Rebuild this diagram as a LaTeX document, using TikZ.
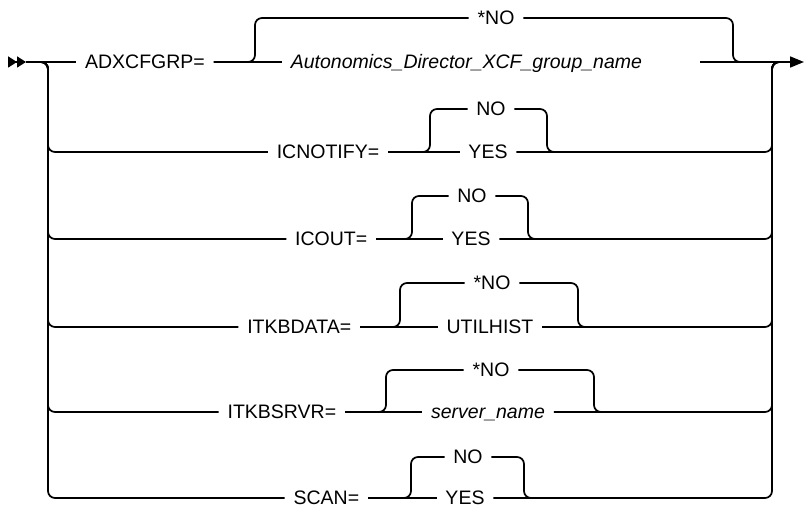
\documentclass[tikz,border=0pt]{standalone}
\usepackage{fontspec}
\setmainfont{Liberation Sans}
\usetikzlibrary{arrows.meta}

\begin{document}
\begin{tikzpicture}[x=1pt,y=-1pt,line width=1.7pt,
    rail/.style={rounded corners=7pt},
    kw/.style={inner xsep=8pt,inner ysep=0pt,text height=13.3pt,text depth=0pt,
      font=\fontsize{19.5}{23}\selectfont},
    var/.style={kw,font=\fontsize{19.5}{23}\selectfont\itshape}]
  \useasboundingbox (0,0) rectangle (805,505);
  % entrada, salida y barras laterales
  \coordinate (ini) at (8,62);
  \coordinate (ini2) at (26,62);
  \coordinate (fin) at (804,62);
  \coordinate (lj) at (48,62);
  \coordinate (rj) at (772,62);
  \draw[-{Triangle[length=9pt,width=11pt]Triangle[length=9pt,width=11pt]}] (ini) -- (ini2);
  % ADXCFGRP
  \node[kw] (adx) at (145,62) {ADXCFGRP=};
  \node[kw] (adxno) at (496,18) {*NO};
  \node[var,anchor=west] (adxname) at (282,62) {Autonomics\_Director\_XCF\_group\_name};
  \coordinate (adxup) at (255,18);
  \coordinate (adxdn) at (733,62);
  \coordinate (adxout) at (700,62);
  \draw (ini2) -- (adx.west);
  \draw (adx.east) -- (adxname.west);
  \draw[rail] (adx.east) -| (adxup) -- (adxno.west);
  \draw[rail] (adxno.east) -| (adxdn) -- ++(10,0);
  \draw[-{Triangle[length=14pt,width=11pt]}] (adxout) -- (fin);
  % ICNOTIFY
  \node[kw,anchor=east] (icn) at (388,152) {ICNOTIFY=};
  \node[kw] (icnno) at (491,109) {NO};
  \node[kw] (icnyes) at (488,152) {YES};
  \coordinate (icnup) at (430,109);
  \coordinate (icndn) at (547,152);
  \draw[rail] (ini2) -| (lj |- icn.west) -- (icn.west);
  \draw (icn.east) -- (icnyes.west);
  \draw[rail] (icn.east) -| (icnup) -- (icnno.west);
  \draw[rail] (icnno.east) -| (icndn) -- ++(10,0);
  \draw[rail] (icnyes.east) -| (rj) -- ++(10,0);
  % ICOUT
  \node[kw,anchor=east] (ico) at (376,239) {ICOUT=};
  \node[kw] (icono) at (472,196) {NO};
  \node[kw] (icoyes) at (471,239) {YES};
  \coordinate (icoup) at (412,196);
  \coordinate (icodn) at (528,239);
  \draw[rail] (ini2) -| (lj |- ico.west) -- (ico.west);
  \draw (ico.east) -- (icoyes.west);
  \draw[rail] (ico.east) -| (icoup) -- (icono.west);
  \draw[rail] (icono.east) -| (icodn) -- ++(10,0);
  \draw[rail] (icoyes.east) -| (rj) -- ++(10,0);
  % ITKBDATA
  \node[kw,anchor=east] (itd) at (360,327) {ITKBDATA=};
  \node[kw] (itdno) at (492,283) {*NO};
  \node[kw] (itdhist) at (490,327) {UTILHIST};
  \coordinate (itdup) at (400,283);
  \coordinate (itddn) at (578,327);
  \draw[rail] (ini2) -| (lj |- itd.west) -- (itd.west);
  \draw (itd.east) -- (itdhist.west);
  \draw[rail] (itd.east) -| (itdup) -- (itdno.west);
  \draw[rail] (itdno.east) -| (itddn) -- ++(10,0);
  \draw[rail] (itdhist.east) -| (rj) -- ++(10,0);
  % ITKBSRVR
  \node[kw,anchor=east] (its) at (345,412) {ITKBSRVR=};
  \node[kw] (itsno) at (491,370) {*NO};
  \node[var] (itsname) at (488,412) {server\_name};
  \coordinate (itsup) at (386,370);
  \coordinate (itsdn) at (594,412);
  \draw[rail] (ini2) -| (lj |- its.west) -- (its.west);
  \draw (its.east) -- (itsname.west);
  \draw[rail] (its.east) -| (itsup) -- (itsno.west);
  \draw[rail] (itsno.east) -| (itsdn) -- ++(10,0);
  \draw[rail] (itsname.east) -| (rj) -- ++(10,0);
  % SCAN
  \node[kw,anchor=east] (scn) at (368,498) {SCAN=};
  \node[kw] (scnno) at (468,457) {NO};
  \node[kw] (scnyes) at (465,498) {YES};
  \coordinate (scnup) at (411,457);
  \coordinate (scndn) at (524,498);
  \draw[rail] (ini2) -| (lj |- scn.west) -- (scn.west);
  \draw (scn.east) -- (scnyes.west);
  \draw[rail] (scn.east) -| (scnup) -- (scnno.west);
  \draw[rail] (scnno.east) -| (scndn) -- ++(10,0);
  \draw[rail] (scnyes.east) -| (rj) -- ++(10,0);
\end{tikzpicture}
\end{document}
